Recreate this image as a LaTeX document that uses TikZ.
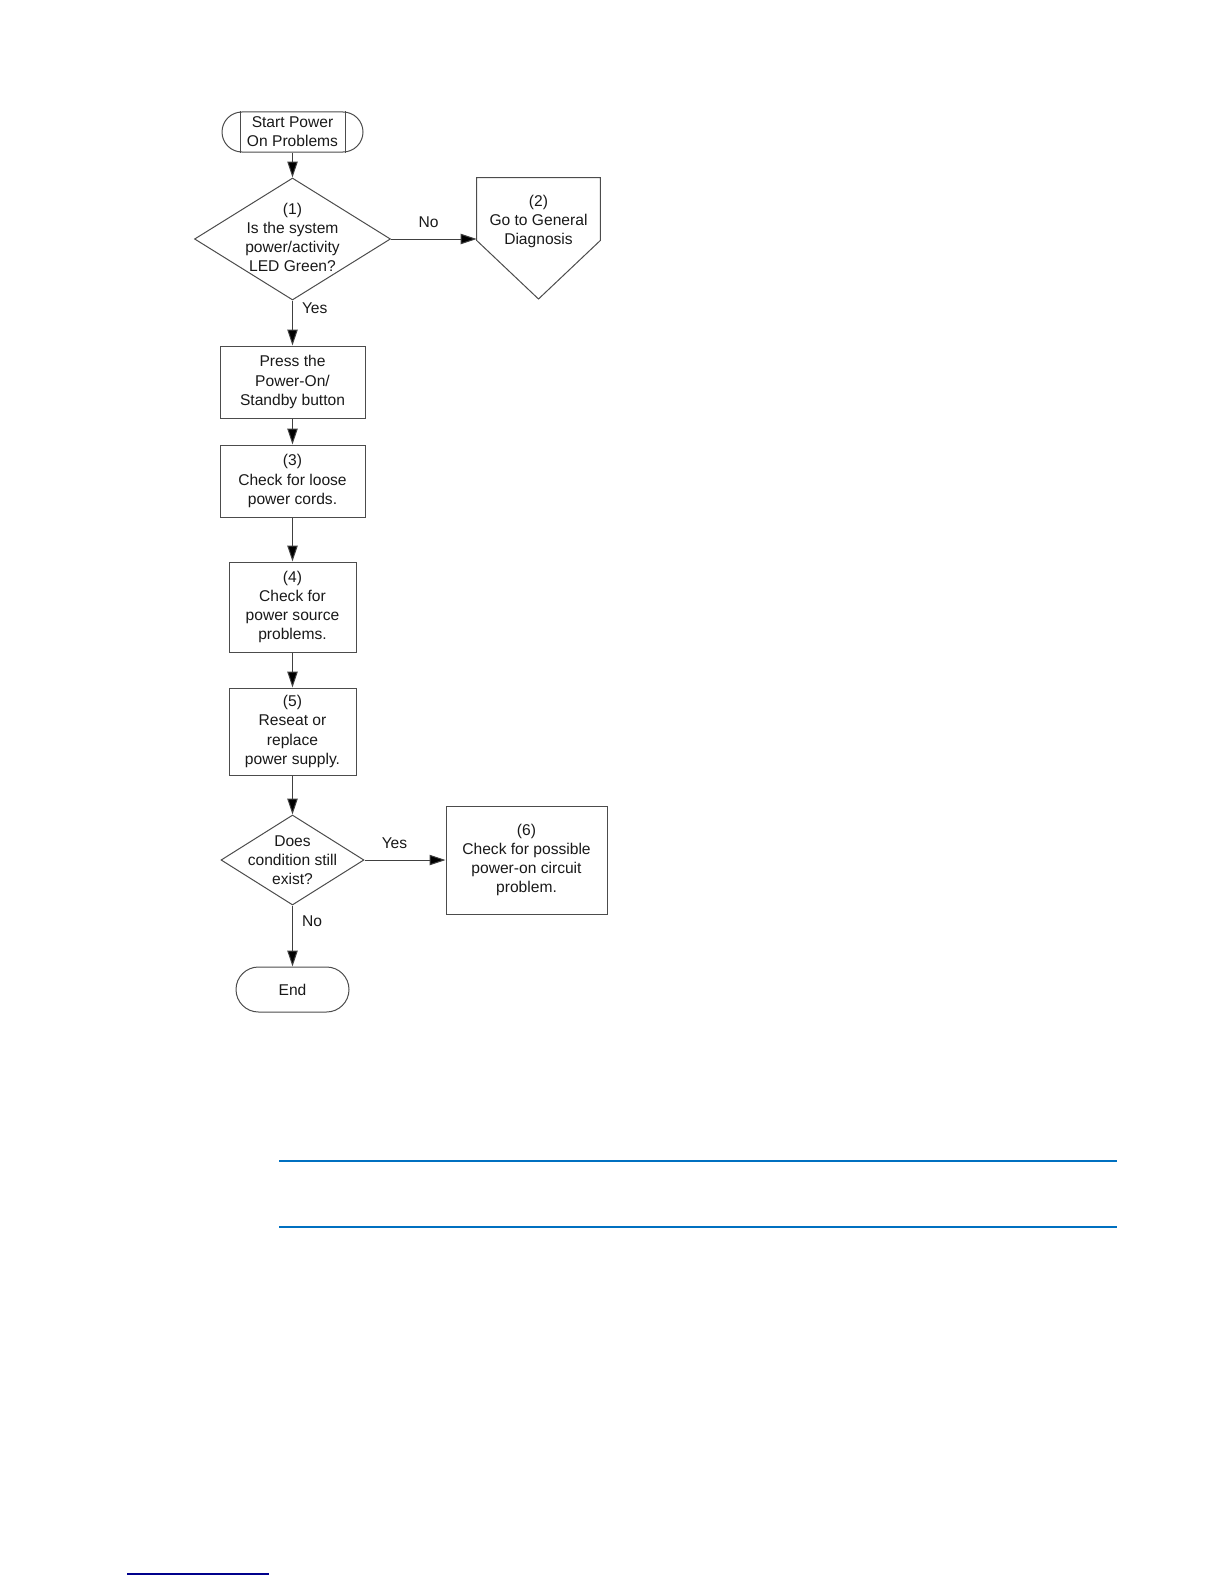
\documentclass[tikz,border=0pt]{standalone}
\usepackage{fontspec}
\setmainfont{Liberation Sans}
\usetikzlibrary{shapes.geometric,arrows.meta}
\definecolor{lineblue}{RGB}{0,112,192}
\definecolor{navyline}{RGB}{0,0,140}
\begin{document}
\begin{tikzpicture}[x=0.5pt,y=-0.5pt,
  txt/.style={inner sep=0pt,align=center,text=black!90,font=\fontsize{7.8}{9.6}\selectfont},
  shp/.style={draw=black!70,line width=0.5pt},
  procbox/.style={shp,txt,rectangle},
  decbox/.style={shp,diamond,inner sep=0pt},
  termbox/.style={shp,txt,rectangle},
  conn/.style={draw=black!75,line width=0.5pt,-{Triangle[length=8pt,width=5.2pt,fill=black]}},
  lbl/.style={txt}]
\useasboundingbox (0,0) rectangle (1224,1584);
% start
\node[termbox,minimum width=70.5pt,minimum height=20pt,rounded corners=10pt] (st) at (292.5,132) {Start Power\\On Problems};
\draw[shp] ([xshift=9.5pt]st.north west) -- ([xshift=9.5pt]st.south west);
\draw[shp] ([xshift=-9pt]st.north east) -- ([xshift=-9pt]st.south east);
% decision 1
\node[decbox,minimum width=98pt,minimum height=61pt] (d1) at (292.5,239) {};
\node[txt] (d1t) at (292.5,237.5) {(1)\\Is the system\\power/activity\\LED Green?};
% off-page connector
\node[inner sep=0pt,minimum width=61.5pt,minimum height=31pt] (gd) at (538.5,209) {};
\coordinate (gdtip) at (538.5,299);
\draw[shp] (gd.north west) -- (gd.north east) -- (gd.south east) -- (gdtip) -- (gd.south west) -- cycle;
\node[txt] (gdt) at (538.5,221.5) {(2)\\Go to General\\Diagnosis};
% boxes
\node[procbox,minimum width=72.5pt,minimum height=36pt] (a) at (292.5,382) {Press the\\Power-On/\\Standby button};
\node[procbox,minimum width=72.5pt,minimum height=36pt] (b3) at (292.5,481) {(3)\\Check for loose\\power cords.};
\node[procbox,minimum width=63.5pt,minimum height=45pt] (b4) at (292.5,607) {(4)\\Check for\\power source\\problems.};
\node[procbox,minimum width=63.5pt,minimum height=43.5pt] (b5) at (292.5,731.5) {(5)\\Reseat or\\replace\\power supply.};
% decision 2
\node[decbox,minimum width=71.5pt,minimum height=45pt] (d2) at (292.5,860) {};
\node[txt] (d2t) at (292.5,860) {Does\\condition still\\exist?};
\node[procbox,minimum width=80.5pt,minimum height=54pt] (b6) at (526.5,860) {(6)\\Check for possible\\power-on circuit\\problem.};
% end
\node[termbox,minimum width=56.5pt,minimum height=22.5pt,rounded corners=11.25pt] (en) at (292.5,989.5) {End};
% connectors
\draw[conn] (st.south) -- (d1.north);
\draw[conn] (d1.east) -- (d1.east -| gd.west) node[lbl,pos=0.44,above=5.5pt] (no1) {No};
\draw[conn] (d1.south) -- (a.north) node[lbl,pos=0.17,right=4.5pt] (yes1) {Yes};
\draw[conn] (a.south) -- (b3.north);
\draw[conn] (b3.south) -- (b4.north);
\draw[conn] (b4.south) -- (b5.north);
\draw[conn] (b5.south) -- (d2.north);
\draw[conn] (d2.east) -- (b6.west) node[lbl,pos=0.37,above=5.5pt] (yes2) {Yes};
\draw[conn] (d2.south) -- (en.north) node[lbl,pos=0.26,right=4.5pt] (no2) {No};
% page rules
\draw[lineblue,line width=0.6pt] (279,1161) -- (1117,1161);
\draw[lineblue,line width=0.6pt] (279,1227) -- (1117,1227);
\draw[navyline,line width=0.6pt] (127,1574) -- (269,1574);
\end{tikzpicture}
\end{document}
